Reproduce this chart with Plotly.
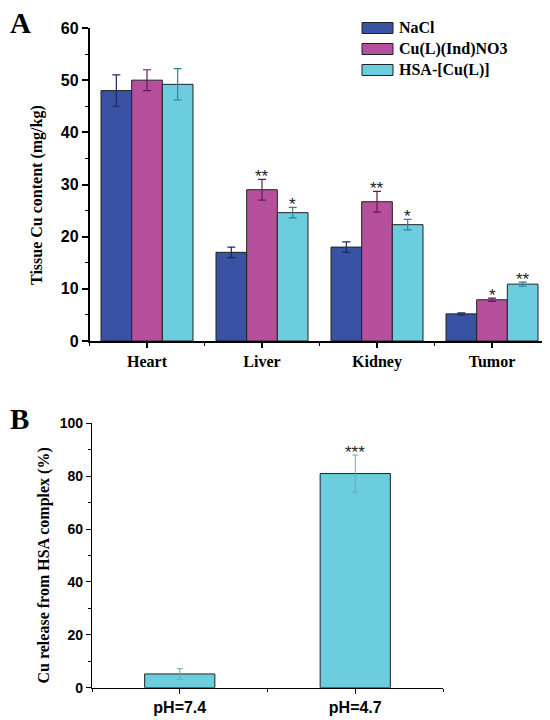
import plotly.graph_objects as go

# ---------------- data ----------------
organs = ["Heart", "Liver", "Kidney", "Tumor"]
series_names = ["NaCl", "Cu(L)(Ind)NO3", "HSA-[Cu(L)]"]
nacl = [48.0, 17.0, 18.0, 5.2]
nacl_err = [3.0, 1.0, 1.0, 0.2]
cul = [50.0, 29.0, 26.7, 7.9]
cul_err = [2.0, 2.0, 2.0, 0.3]
hsa = [49.2, 24.6, 22.3, 10.9]
hsa_err = [3.0, 1.0, 1.0, 0.4]
sig_nacl = ["", "", "", ""]
sig_cul = ["", "**", "**", "*"]
sig_hsa = ["", "*", "*", "**"]

ph_labels = ["pH=7.4", "pH=4.7"]
release = [5.2, 81.0]
release_err = [2.0, 7.0]
release_sig = ["", "***"]

# ---------------- style ----------------
# page body has an 8px margin; figure is sized/positioned to compensate
OX, OY = 8, 8
FW, FH = 542, 712
colors = ["#3a52a3", "#b64f9c", "#6bcddd"]
err_colors = ["#1c2a5e", "#5e1d52", "#2f8392"]
serif = "Times New Roman, Liberation Serif, serif"
sans = "Arial, Liberation Sans, sans-serif"


def px_x(p):
    return (p - OX) / FW


def px_y(p):
    return 1 - (p - OY) / FH


fig = go.Figure()

xA = list(range(len(organs)))
vals = [nacl, cul, hsa]
errs = [nacl_err, cul_err, hsa_err]
sigs = [sig_nacl, sig_cul, sig_hsa]
for k in range(3):
    fig.add_trace(go.Bar(
        x=xA, y=vals[k], name=series_names[k],
        marker=dict(color=colors[k], line=dict(color="#222222", width=1)),
        error_y=dict(type="data", array=errs[k], color=err_colors[k],
                     thickness=1.2, width=4),
        xaxis="x", yaxis="y", showlegend=False,
    ))

xB = list(range(len(ph_labels)))
fig.add_trace(go.Bar(
    x=xB, y=release, width=0.4,
    marker=dict(color=colors[2], line=dict(color="#222222", width=1)),
    error_y=dict(type="data", array=release_err, color="#6aaab4",
                 thickness=1, width=3),
    xaxis="x2", yaxis="y2", showlegend=False,
))

bargap = 0.2
bw = (1 - bargap) / 3
annotations = []
for k in range(3):
    for i, s in enumerate(sigs[k]):
        if s:
            annotations.append(dict(
                x=xA[i] + (k - 1) * bw, y=vals[k][i] + errs[k][i],
                xref="x", yref="y", text=s, showarrow=False,
                yanchor="middle", yshift=3,
                font=dict(family=sans, size=17, color="#222222")))
for i, s in enumerate(release_sig):
    if s:
        annotations.append(dict(
            x=xB[i], y=release[i] + release_err[i], xref="x2", yref="y2",
            text=s, showarrow=False, yanchor="middle", yshift=3,
            font=dict(family=sans, size=17, color="#222222")))

# panel letters
annotations.append(dict(x=0, y=1.0, xref="paper", yref="paper",
                        xanchor="left", yanchor="top", yshift=3, text="A", showarrow=False,
                        font=dict(family=serif, size=29, color="black", weight="bold")))
annotations.append(dict(x=0, y=px_y(401), xref="paper", yref="paper",
                        xanchor="left", yanchor="top", text="B", showarrow=False,
                        font=dict(family=serif, size=29, color="black", weight="bold")))

# axis titles
annotations.append(dict(x=px_x(37), y=px_y(195), xref="paper", yref="paper",
                        text="Tissue Cu content (mg/kg)", textangle=-90, showarrow=False,
                        xanchor="center", yanchor="middle",
                        font=dict(family=serif, size=16, color="black", weight="bold")))
annotations.append(dict(x=px_x(43.5), y=px_y(566), xref="paper", yref="paper",
                        text="Cu release from HSA complex (%)", textangle=-90, showarrow=False,
                        xanchor="center", yanchor="middle",
                        font=dict(family=serif, size=16, color="black", weight="bold")))

# legend
shapes = []
leg_rows = [28, 49, 70]
for k in range(3):
    yc = leg_rows[k]
    shapes.append(dict(type="rect", xref="paper", yref="paper",
                       x0=px_x(362), x1=px_x(393), y0=px_y(yc + 5.5), y1=px_y(yc - 5.5),
                       fillcolor=colors[k], line=dict(color="#222222", width=1)))
    annotations.append(dict(x=px_x(397), y=px_y(yc), xref="paper", yref="paper",
                            xanchor="left", yanchor="middle", text=series_names[k],
                            showarrow=False,
                            font=dict(family=serif, size=16, color="black", weight="bold")))

axis_common = dict(showline=True, linecolor="black", ticks="outside",
                   tickcolor="black", showgrid=False, zeroline=False, automargin=False)

fig.update_layout(
    width=FW, height=FH,
    margin=dict(l=0, r=0, t=0, b=0, autoexpand=False),
    paper_bgcolor="white", plot_bgcolor="white",
    barmode="group", bargap=bargap, bargroupgap=0,
    annotations=annotations, shapes=shapes,
    xaxis=dict(domain=[px_x(89.5), min(1.0, px_x(549.5))], anchor="y", range=[-0.5, 3.5],
               tickmode="array", tickvals=xA, ticktext=organs, ticklen=5, tickwidth=1.5,
               linewidth=1.5,
               minor=dict(tickmode="linear", tick0=-0.5, dtick=0.5, ticklen=3, tickwidth=1.2,
                          ticks="outside", tickcolor="black"),
               tickfont=dict(family=serif, size=16, color="black", weight="bold"),
               **axis_common),
    yaxis=dict(domain=[px_y(341), px_y(28)], anchor="x", range=[0, 60], dtick=10,
               ticklen=6, tickwidth=1.5, linewidth=1.5,
               minor=dict(dtick=5, ticklen=3, tickwidth=1.2, ticks="outside", tickcolor="black"),
               tickfont=dict(family=sans, size=16, color="black", weight="bold"),
               **axis_common),
    xaxis2=dict(domain=[px_x(92), px_x(443)], anchor="y2", range=[-0.5, 1.5],
                tickmode="array", tickvals=xB, ticktext=ph_labels, ticklen=5, tickwidth=1.2,
                linewidth=1.2,
                minor=dict(tickmode="linear", tick0=-0.5, dtick=0.5, ticklen=3, tickwidth=1,
                           ticks="outside", tickcolor="black"),
                tickfont=dict(family=sans, size=16, color="black", weight="bold"),
                **axis_common),
    yaxis2=dict(domain=[px_y(687.7), px_y(423.3)], anchor="x2", range=[0, 100], dtick=20,
                ticklen=5, tickwidth=1.2, linewidth=1.2,
                minor=dict(dtick=10, ticklen=3, tickwidth=1, ticks="outside", tickcolor="black"),
                tickfont=dict(family=sans, size=14, color="black", weight="bold"),
                **axis_common),
)

fig.write_html("out.html")
